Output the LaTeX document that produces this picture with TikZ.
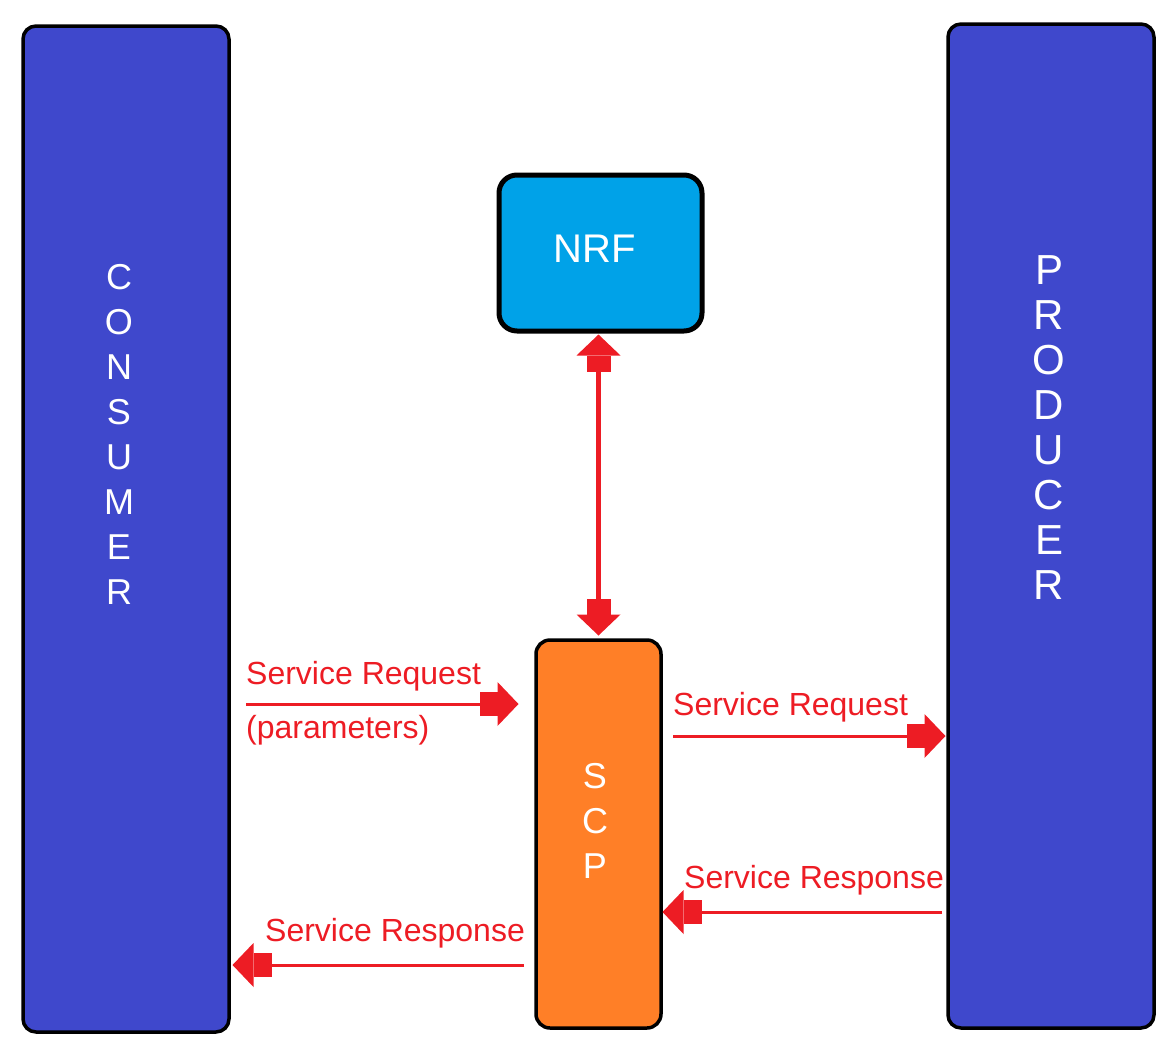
\documentclass[tikz,border=0pt]{standalone}
\usepackage{fontspec}
\setmainfont{Liberation Sans}
\usetikzlibrary{arrows.meta}
\definecolor{nfblue}{HTML}{3F48CC}
\definecolor{nrfcyan}{HTML}{00A2E8}
\definecolor{scporange}{HTML}{FF7F27}
\definecolor{msgred}{HTML}{ED1C24}

\begin{document}
\begin{tikzpicture}[
    x=1pt, y=-1pt,
    nf/.style={draw=black, line width=3.5pt, rounded corners=13pt, inner sep=0pt, outer sep=0pt},
    vlabel/.style={text=white, align=center, inner sep=0pt},
    msg/.style={text=msgred, inner sep=0pt, font=\fontsize{32}{38}\selectfont},
    blk/.tip={Rectangle[length=18pt, width=24pt, line width=0pt, sep=0pt] Triangle[length=21pt, width=44pt, line width=0pt, sep=-0.5pt]},
    vblk/.tip={Rectangle[length=16pt, width=24pt, line width=0pt, sep=0pt] Triangle[length=21pt, width=44pt, line width=0pt, sep=-0.5pt]},
    flow/.style={draw=msgred, line width=3pt, -{blk}},
    dflow/.style={draw=msgred, line width=5pt, {vblk}-{vblk}}
  ]
  \useasboundingbox (0,0) rectangle (1168,1050);

  \node[nf, fill=nfblue, minimum width=206pt, minimum height=1006pt] (cons) at (126,529) {};
  \node[nf, fill=nfblue, minimum width=206pt, minimum height=1004pt] (prod) at (1051,526) {};
  \node[nf, fill=nrfcyan, line width=5pt, rounded corners=18pt, minimum width=203pt, minimum height=156pt] (nrf) at (600.5,253) {};
  \node[nf, fill=scporange, rounded corners=14pt, minimum width=125pt, minimum height=388pt] (scp) at (598.5,834) {};

  \node[text=white, font=\fontsize{40}{48}\selectfont, inner sep=0pt] (nrf-lbl) at (595,249) {NRF};
  \node[vlabel, font=\fontsize{36}{45}\selectfont] (cons-lbl) at (119,434) {C\\O\\N\\S\\U\\M\\E\\R};
  \node[vlabel, font=\fontsize{42}{45}\selectfont] (prod-lbl) at (1049,428) {P\\R\\O\\D\\U\\C\\E\\R};
  \node[vlabel, font=\fontsize{36}{45}\selectfont] (scp-lbl) at (595,821) {S\\C\\P};

  % messages
  \node[msg, anchor=base west] (req1) at (246,684) {Service Request};
  \node[msg, anchor=base west] (par1) at (246,738) {(parameters)};
  \node[msg, anchor=base west] (req2) at (673,715) {Service Request};
  \node[msg, anchor=base west] (rsp1) at (684,888) {Service Response};
  \node[msg, anchor=base west] (rsp2) at (265,941) {Service Response};

  \coordinate (req1-s) at (246,704);
  \coordinate (req2-s) at (673,736);
  \coordinate (rsp1-s) at (942,912);
  \coordinate (rsp2-s) at (524,965);

  \draw[flow, shorten >=18pt] (req1-s) -- (req1-s -| scp.west);
  \draw[flow, shorten >=3pt] (req2-s) -- (req2-s -| prod.west);
  \draw[flow, shorten >=2pt] (rsp1-s) -- (rsp1-s -| scp.east);
  \draw[flow, shorten >=4pt] (rsp2-s) -- (rsp2-s -| cons.east);
  \draw[dflow, shorten <=4pt, shorten >=5pt] (nrf.south -| scp.north) -- (scp.north);

\end{tikzpicture}
\end{document}
